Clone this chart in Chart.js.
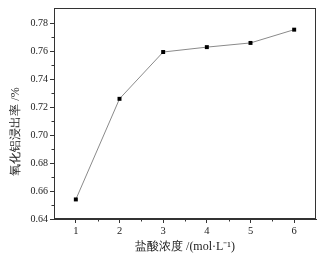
<!DOCTYPE html>
<html><head><meta charset="utf-8">
<script src="https://cdn.jsdelivr.net/npm/chart.js@4"></script>
<style>html,body{margin:0;padding:0;background:#fff;}canvas{display:block;}</style>
</head><body>
<canvas id="c" width="330" height="257"></canvas>
<script>
const concentrations = [1, 2, 3, 4, 5, 6];
const leachRate = [0.654, 0.726, 0.7595, 0.763, 0.766, 0.7755];
const xTicks = [1, 2, 3, 4, 5, 6];
const yTicks = [0.64, 0.66, 0.68, 0.70, 0.72, 0.74, 0.76, 0.78];
const xTitle = '盐酸浓度 /(mol·L⁻¹)';
const yTitle = '氧化铝浸出率 /%\u3000\u3000\u3000';

const serif = '"Liberation Serif", "Times New Roman", serif';

const boxPlugin = {
  id: 'box',
  afterDraw(chart) {
    const {ctx, chartArea: a, scales} = chart;
    ctx.save();
    ctx.strokeStyle = '#333';
    ctx.lineWidth = 1;
    ctx.strokeRect(a.left + 0.5, a.top + 0.5, a.right - a.left - 1, a.bottom - a.top - 1);
    ctx.beginPath();
    for (let v = 1.5; v < 6.5; v += 1) {
      const x = Math.round(scales.x.getPixelForValue(v)) + 0.5;
      ctx.moveTo(x, a.bottom); ctx.lineTo(x, a.bottom + 2.5);
    }
    for (let v = 0.65; v < 0.79; v += 0.02) {
      const y = Math.round(scales.y.getPixelForValue(v)) + 0.5;
      ctx.moveTo(a.left, y); ctx.lineTo(a.left - 2.5, y);
    }
    ctx.stroke();
    ctx.restore();
  }
};

new Chart(document.getElementById('c'), {
  type: 'scatter',
  data: {
    datasets: [{
      data: concentrations.map((x, i) => ({x, y: leachRate[i]})),
      showLine: true,
      borderColor: '#8a8a8a',
      borderWidth: 1,
      pointStyle: 'rect',
      pointRadius: 2.8,
      pointBackgroundColor: '#000',
      pointBorderColor: '#000',
      pointBorderWidth: 0
    }]
  },
  options: {
    responsive: false,
    animation: false,
    layout: {padding: {left: 9, top: 8, right: 14, bottom: 3}},
    plugins: {legend: {display: false}, tooltip: {enabled: false}},
    scales: {
      x: {
        type: 'linear', min: 0.5, max: 6.5,
        afterBuildTicks(s) { s.ticks = xTicks.map(v => ({value: v})); },
        afterFit(s) { s.height = 35; },
        grid: {drawOnChartArea: false, drawTicks: true, tickLength: 4, color: '#333'},
        border: {color: '#333'},
        ticks: {color: '#222', font: {family: serif, size: 10.5}, padding: 2, callback: v => String(v)},
        title: {display: true, text: xTitle, color: '#222', font: {family: serif, size: 12}, padding: {top: 0, bottom: 0}}
      },
      y: {
        type: 'linear', min: 0.64, max: 0.791,
        afterBuildTicks(s) { s.ticks = yTicks.map(v => ({value: v})); },
        afterFit(s) { s.width = 45; },
        grid: {drawOnChartArea: false, drawTicks: true, tickLength: 4, color: '#333'},
        border: {color: '#333'},
        ticks: {color: '#222', font: {family: serif, size: 10}, padding: 2, callback: v => v.toFixed(2)},
        title: {display: true, text: yTitle, color: '#222', font: {family: serif, size: 12}, padding: {top: 0, bottom: 2}}
      }
    }
  },
  plugins: [boxPlugin]
});
</script>
</body></html>
